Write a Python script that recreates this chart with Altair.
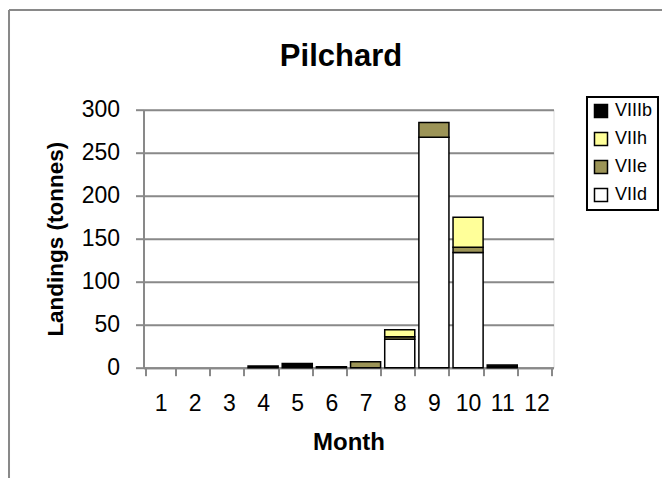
import altair as alt
import pandas as pd

months = ["1", "2", "3", "4", "5", "6", "7", "8", "9", "10", "11", "12"]
series = ["VIId", "VIIe", "VIIh", "VIIIb"]
legend_order = ["VIIIb", "VIIh", "VIIe", "VIId"]
colors = {"VIIIb": "#000000", "VIIh": "#FFFF99", "VIIe": "#9C9457", "VIId": "#FFFFFF"}

VIId = [0, 0, 0, 0, 0, 0, 0, 33, 268, 134, 0, 0]
VIIe = [0, 0, 0, 0, 0, 0, 7, 3, 17, 6, 0, 0]
VIIh = [0, 0, 0, 0, 0, 0, 0, 8, 0, 35, 0, 0]
VIIIb = [0, 0, 0, 2, 5, 1, 0, 0, 0, 0, 3, 0]

vals = {"VIId": VIId, "VIIe": VIIe, "VIIh": VIIh, "VIIIb": VIIIb}
rows = []
for si, s in enumerate(series):
    for m, v in zip(months, vals[s]):
        if v > 0:
            rows.append({"month": m, "area": s, "value": v, "ord": si})
df = pd.DataFrame(rows)

FONT = "Liberation Sans"
GRAY = "#898989"
W, H = 410, 258

bars = alt.Chart(df).mark_bar(stroke="black", strokeWidth=1.5).encode(
    x=alt.X("month:N", sort=months,
            scale=alt.Scale(domain=months, paddingInner=0.12, paddingOuter=0.06),
            axis=alt.Axis(title="Month", labelAngle=0, tickBand="extent",
                          tickSize=8, tickWidth=2, tickColor=GRAY,
                          domainColor=GRAY, domainWidth=2,
                          labelFontSize=23, labelPadding=17, labelColor="black",
                          titleFontSize=24, titleFontWeight="bold", titlePadding=15,
                          titleColor="black", grid=False)),
    y=alt.Y("value:Q", stack="zero",
            scale=alt.Scale(domain=[0, 300], nice=False),
            axis=alt.Axis(title="Landings (tonnes)", values=[0, 50, 100, 150, 200, 250, 300],
                          tickSize=8, tickWidth=2, tickColor=GRAY,
                          domainColor=GRAY, domainWidth=2,
                          gridColor=GRAY, gridWidth=2,
                          labelFontSize=23, labelPadding=16, labelColor="black",
                          titleFontSize=22.5, titleFontWeight="bold", titlePadding=14,
                          titleColor="black")),
    color=alt.Color("area:N",
                    scale=alt.Scale(domain=legend_order, range=[colors[k] for k in legend_order]),
                    legend=alt.Legend(title=None, orient="none", legendX=443.5, legendY=-12.7,
                                      symbolType="square", symbolSize=169,
                                      symbolStrokeColor="black", symbolStrokeWidth=1.5,
                                      labelFontSize=18, labelOffset=5, labelColor="black",
                                      rowPadding=8, padding=5, strokeColor="black")),
    order=alt.Order("ord:Q", sort="ascending"),
)

one = alt.Data(values=[{"t": "Pilchard"}])
frame_v = alt.Chart(one).mark_rule(color=GRAY, strokeWidth=2).encode(
    x=alt.value(-134.5), y=alt.value(-99.7), y2=alt.value(380))
frame_h = alt.Chart(one).mark_rule(color=GRAY, strokeWidth=2).encode(
    x=alt.value(-134.5), x2=alt.value(520), y=alt.value(-99.7))
title = alt.Chart(one).mark_text(font=FONT, fontSize=31, fontWeight="bold",
                                 align="center", baseline="alphabetic", color="black").encode(
    x=alt.value(197.5), y=alt.value(-44), text="t:N")

chart = alt.layer(frame_v, frame_h, bars, title).properties(
    width=W, height=H,
    autosize=alt.AutoSizeParams(type="none"),
    padding={"left": 135.5, "top": 101.7, "right": 108, "bottom": 110},
).configure_view(stroke=None).configure(font=FONT).configure_legend(strokeWidth=2)

chart.save("out.html", embed_options={"renderer": "svg", "actions": False})
